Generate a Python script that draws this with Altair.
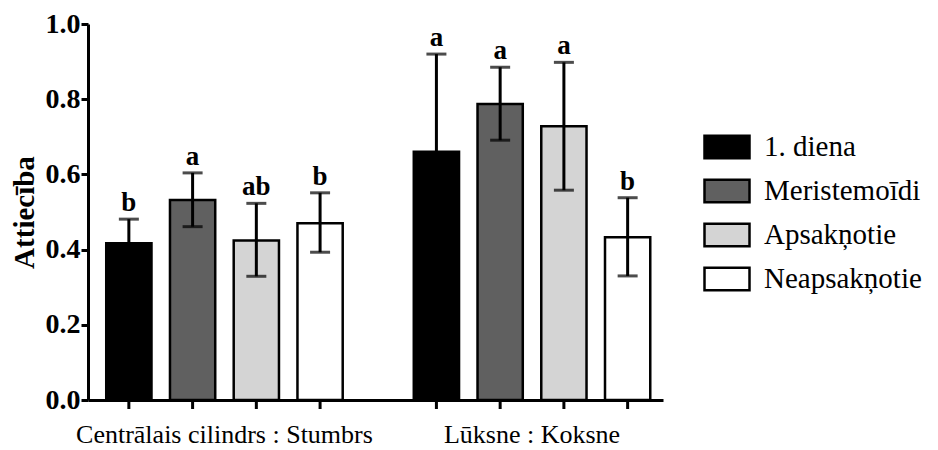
import altair as alt
import pandas as pd

groups = ["Centrālais cilindrs : Stumbrs", "Lūksne : Koksne"]
series = ["1. diena", "Meristemoīdi", "Apsakņotie", "Neapsakņotie"]
colors = ["#000000", "#606060", "#d4d4d4", "#ffffff"]

means_g1 = [0.417, 0.532, 0.424, 0.470]
means_g2 = [0.660, 0.787, 0.728, 0.433]
upper_g1 = [0.481, 0.604, 0.523, 0.551]
upper_g2 = [0.920, 0.885, 0.898, 0.538]
lower_g1 = [0.353, 0.461, 0.329, 0.393]
lower_g2 = [0.400, 0.691, 0.558, 0.330]
letters_g1 = ["b", "a", "ab", "b"]
letters_g2 = ["a", "a", "a", "b"]

rows = []
for g, means, ups, lows, lets in [
    (groups[0], means_g1, upper_g1, lower_g1, letters_g1),
    (groups[1], means_g2, upper_g2, lower_g2, letters_g2),
]:
    for s, m, u, l, t in zip(series, means, ups, lows, lets):
        rows.append({"group": g, "series": s, "mean": m, "hi": u, "lo": l, "letter": t})
df = pd.DataFrame(rows)

FONT = "Liberation Serif"
W, H = 575, 376

xenc = alt.X("group:N", sort=groups, title=None,
             scale=alt.Scale(paddingInner=0.171, paddingOuter=0.0203, align=0.72),
             axis=alt.Axis(ticks=False, labelAngle=0, labelFont=FONT, labelFontSize=26,
                           labelColor="black", labelPadding=21, labelLimit=0,
                           domainColor="black", domainWidth=3))
xoff = alt.XOffset("series:N", sort=series,
                   scale=alt.Scale(paddingInner=0.29, paddingOuter=0.145))

base = alt.Chart(df)

bars = base.mark_bar(stroke="black", strokeWidth=2.5).encode(
    x=xenc,
    xOffset=xoff,
    y=alt.Y("mean:Q", title="Attiecība",
            scale=alt.Scale(domain=[0, 1]),
            axis=alt.Axis(values=[0, 0.2, 0.4, 0.6, 0.8, 1.0], format=".1f", grid=False,
                          labelFont=FONT, labelFontSize=28, labelFontWeight="bold",
                          labelColor="black", labelPadding=1, tickSize=7, tickWidth=3,
                          tickColor="black", domainColor="black", domainWidth=3,
                          titleFont=FONT, titleFontSize=29, titleFontWeight="bold",
                          titleColor="black", titleX=-55, titleY=H / 2,
                          titleAngle=270, titleAlign="center",
                          titleBaseline="alphabetic")),
    fill=alt.Fill("series:N", sort=series,
                  scale=alt.Scale(domain=series, range=colors),
                  legend=alt.Legend(title=None, orient="none", legendX=615, legendY=99,
                                    labelFont=FONT, labelFontSize=29, labelColor="black",
                                    symbolType="M-1,-0.5H1V0.5H-1Z", symbolSize=2025,
                                    symbolStrokeColor="black", symbolStrokeWidth=2.5,
                                    labelOffset=13, rowPadding=3, padding=0,
                                    labelLimit=0)),
)

err = base.mark_rule(color="black", strokeWidth=3).encode(
    x=alt.X("group:N", sort=groups), xOffset=xoff,
    y="lo:Q", y2="hi:Q",
)
cap_hi = base.mark_tick(color="black", thickness=3, size=20).encode(
    x=alt.X("group:N", sort=groups), xOffset=xoff, y="hi:Q",
)
cap_lo = base.mark_tick(color="black", thickness=3, size=20).encode(
    x=alt.X("group:N", sort=groups), xOffset=xoff, y="lo:Q",
)
labels = base.mark_text(font=FONT, fontSize=27, fontWeight="bold", color="black",
                        baseline="alphabetic", dy=-8).encode(
    x=alt.X("group:N", sort=groups), xOffset=xoff, y="hi:Q", text="letter:N",
)
xticks = base.mark_rule(color="black", strokeWidth=3).encode(
    x=alt.X("group:N", sort=groups), xOffset=xoff,
    y=alt.value(H), y2=alt.value(H + 9),
)

chart = alt.layer(bars, err, cap_hi, cap_lo, labels, xticks).properties(
    width=W, height=H,
    autosize=alt.AutoSizeParams(type="none"),
    padding={"left": 80, "top": 16, "right": 267, "bottom": 50},
).configure(background="white").configure_view(strokeWidth=0, stroke="transparent")

chart.save("out.html", embed_options={"renderer": "svg", "actions": False})
